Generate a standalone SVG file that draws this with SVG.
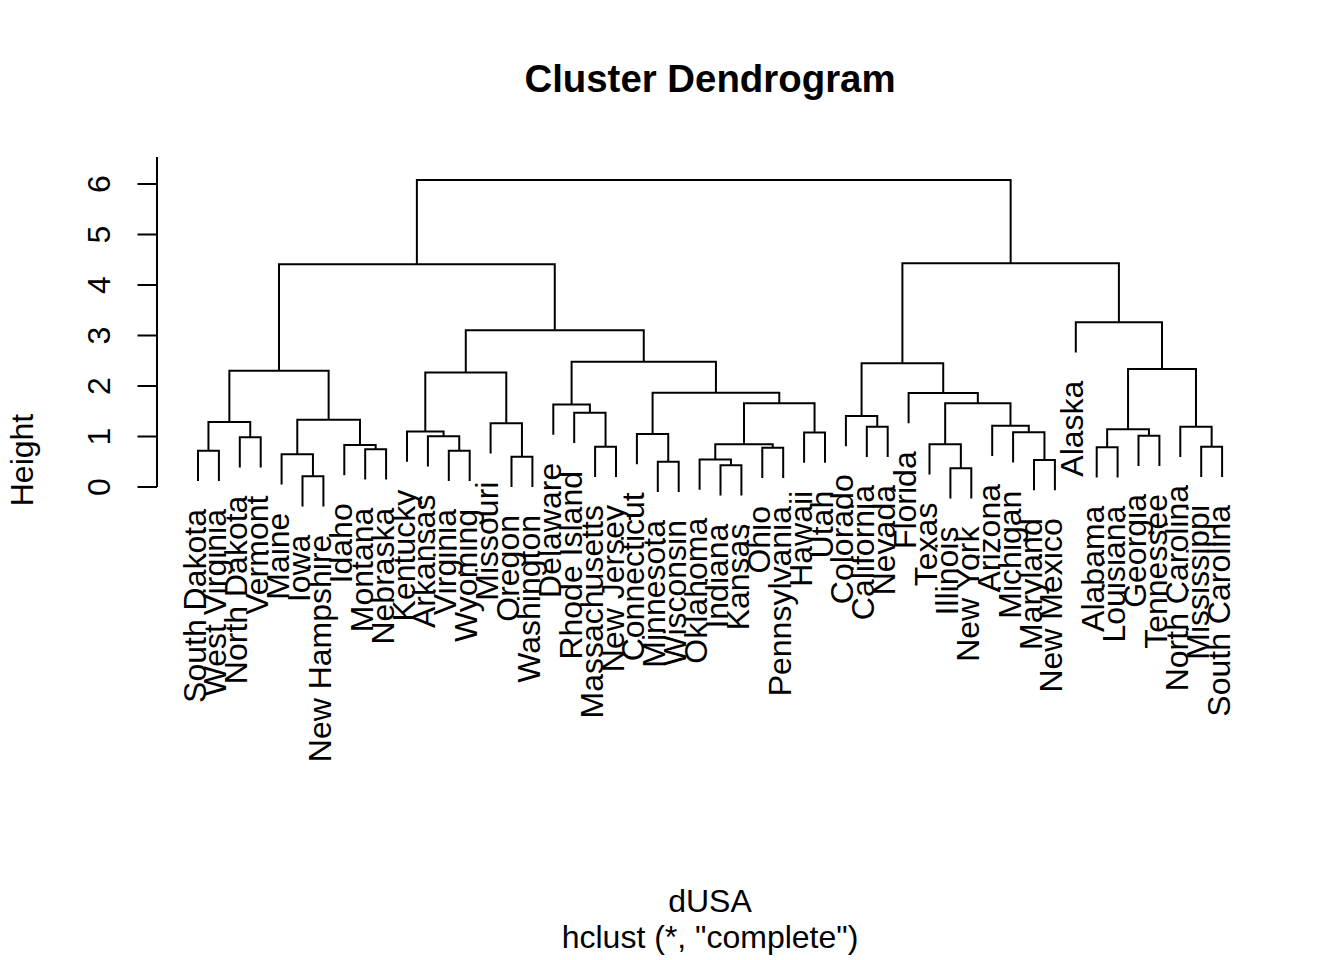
<svg xmlns="http://www.w3.org/2000/svg" width="1344" height="960" viewBox="0 0 1344 960">
<style>
.b{fill:none;stroke:#000;stroke-width:2;stroke-linecap:butt;stroke-linejoin:miter}
.t{font-family:"Liberation Sans",Arial,Helvetica,sans-serif;font-size:32px;fill:#000}
.lbl{text-anchor:end}
.mid{text-anchor:middle}
</style>
<rect width="1344" height="960" fill="#fff"/>
<text id="title" class="t mid" x="710" y="92" style="font-size:38.4px;font-weight:bold">Cluster Dendrogram</text>
<text id="xlab" class="t mid" x="710" y="912">dUSA</text>
<text id="sub" class="t mid" x="710" y="948">hclust (*, "complete")</text>
<text id="ylab" class="t mid" transform="translate(33,460) rotate(-90)">Height</text>
<g id="axis">
<path class="b" d="M157 487V157M157 487H137.5M157 436.5H137.5M157 386H137.5M157 335.5H137.5M157 285H137.5M157 234.5H137.5M157 184H137.5"/>
<text class="t mid" transform="translate(110,487) rotate(-90)">0</text>
<text class="t mid" transform="translate(110,436.5) rotate(-90)">1</text>
<text class="t mid" transform="translate(110,386) rotate(-90)">2</text>
<text class="t mid" transform="translate(110,335.5) rotate(-90)">3</text>
<text class="t mid" transform="translate(110,285) rotate(-90)">4</text>
<text class="t mid" transform="translate(110,234.5) rotate(-90)">5</text>
<text class="t mid" transform="translate(110,184) rotate(-90)">6</text>
</g>
<g id="connectors" class="b">
<path d="M198 481V450.7H218.9V481"/>
<path d="M239.8 467.6V437.3H260.7V467.6"/>
<path d="M208.45 450.7V422H250.25V437.3"/>
<path d="M302.5 506.6V476.3H323.4V506.6"/>
<path d="M281.6 484.6V454.3H312.95V476.3"/>
<path d="M365.2 479.6V449.3H386.1V479.6"/>
<path d="M344.3 475.3V445H375.65V449.3"/>
<path d="M297.28 454.3V419.7H359.98V445"/>
<path d="M229.35 422V370.7H328.63V419.7"/>
<path d="M448.8 481V450.7H469.7V481"/>
<path d="M427.9 466.6V436.3H459.25V450.7"/>
<path d="M407 461.8V431.5H443.58V436.3"/>
<path d="M511.5 487V456.7H532.4V487"/>
<path d="M490.6 453.6V423.3H521.95V456.7"/>
<path d="M425.29 431.5V372.5H506.28V423.3"/>
<path d="M595.1 477V446.7H616V477"/>
<path d="M574.2 443V412.7H605.55V446.7"/>
<path d="M553.3 434.8V404.5H589.88V412.7"/>
<path d="M657.8 492V461.7H678.7V492"/>
<path d="M636.9 464.3V434H668.25V461.7"/>
<path d="M720.5 495.6V465.3H741.4V495.6"/>
<path d="M699.6 489.8V459.5H730.95V465.3"/>
<path d="M762.3 478V447.7H783.2V478"/>
<path d="M715.28 459.5V444.3H772.75V447.7"/>
<path d="M804.1 462.8V432.5H825V462.8"/>
<path d="M744.01 444.3V403.3H814.55V432.5"/>
<path d="M652.58 434V392.7H779.28V403.3"/>
<path d="M571.59 404.5V361.7H715.93V392.7"/>
<path d="M465.78 372.5V330.2H643.76V361.7"/>
<path d="M278.99 370.7V264.3H554.77V330.2"/>
<path d="M866.8 457V426.7H887.7V457"/>
<path d="M845.9 446.3V416H877.25V426.7"/>
<path d="M950.4 498.6V468.3H971.3V498.6"/>
<path d="M929.5 474.6V444.3H960.85V468.3"/>
<path d="M1034 490.3V460H1054.9V490.3"/>
<path d="M1013.1 462.6V432.3H1044.45V460"/>
<path d="M992.2 456V425.7H1028.78V432.3"/>
<path d="M945.18 444.3V403.3H1010.49V425.7"/>
<path d="M908.6 423.3V393H977.83V403.3"/>
<path d="M861.58 416V363.3H943.22V393"/>
<path d="M1096.7 477.6V447.3H1117.6V477.6"/>
<path d="M1138.5 466V435.7H1159.4V466"/>
<path d="M1107.15 447.3V429.3H1148.95V435.7"/>
<path d="M1201.2 477V446.7H1222.1V477"/>
<path d="M1180.3 457V426.7H1211.65V446.7"/>
<path d="M1128.05 429.3V369H1195.98V426.7"/>
<path d="M1075.8 352.6V322.3H1162.01V369"/>
<path d="M902.4 363.3V263.3H1118.9V322.3"/>
<path d="M416.88 264.3V180H1010.65V263.3"/>
</g>
<g id="leaves" class="t lbl">
<g id="n1"><text transform="translate(205.5,509) rotate(-90)">South Dakota</text></g>
<g id="n2"><text transform="translate(226.4,509) rotate(-90)">West Virginia</text></g>
<g id="n3"><text transform="translate(247.3,495.6) rotate(-90)">North Dakota</text></g>
<g id="n4"><text transform="translate(268.2,495.6) rotate(-90)">Vermont</text></g>
<g id="n5"><text transform="translate(289.1,512.6) rotate(-90)">Maine</text></g>
<g id="n6"><text transform="translate(310,534.6) rotate(-90)">Iowa</text></g>
<g id="n7"><text transform="translate(330.9,534.6) rotate(-90)">New Hampshire</text></g>
<g id="n8"><text transform="translate(351.8,503.3) rotate(-90)">Idaho</text></g>
<g id="n9"><text transform="translate(372.7,507.6) rotate(-90)">Montana</text></g>
<g id="n10"><text transform="translate(393.6,507.6) rotate(-90)">Nebraska</text></g>
<g id="n11"><text transform="translate(414.5,489.8) rotate(-90)">Kentucky</text></g>
<g id="n12"><text transform="translate(435.4,494.6) rotate(-90)">Arkansas</text></g>
<g id="n13"><text transform="translate(456.3,509) rotate(-90)">Virginia</text></g>
<g id="n14"><text transform="translate(477.2,509) rotate(-90)">Wyoming</text></g>
<g id="n15"><text transform="translate(498.1,481.6) rotate(-90)">Missouri</text></g>
<g id="n16"><text transform="translate(519,515) rotate(-90)">Oregon</text></g>
<g id="n17"><text transform="translate(539.9,515) rotate(-90)">Washington</text></g>
<g id="n18"><text transform="translate(560.8,462.8) rotate(-90)">Delaware</text></g>
<g id="n19"><text transform="translate(581.7,471) rotate(-90)">Rhode Island</text></g>
<g id="n20"><text transform="translate(602.6,505) rotate(-90)">Massachusetts</text></g>
<g id="n21"><text transform="translate(623.5,505) rotate(-90)">New Jersey</text></g>
<g id="n22"><text transform="translate(644.4,492.3) rotate(-90)">Connecticut</text></g>
<g id="n23"><text transform="translate(665.3,520) rotate(-90)">Minnesota</text></g>
<g id="n24"><text transform="translate(686.2,520) rotate(-90)">Wisconsin</text></g>
<g id="n25"><text transform="translate(707.1,517.8) rotate(-90)">Oklahoma</text></g>
<g id="n26"><text transform="translate(728,523.6) rotate(-90)">Indiana</text></g>
<g id="n27"><text transform="translate(748.9,523.6) rotate(-90)">Kansas</text></g>
<g id="n28"><text transform="translate(769.8,506) rotate(-90)">Ohio</text></g>
<g id="n29"><text transform="translate(790.7,506) rotate(-90)">Pennsylvania</text></g>
<g id="n30"><text transform="translate(811.6,490.8) rotate(-90)">Hawaii</text></g>
<g id="n31"><text transform="translate(832.5,490.8) rotate(-90)">Utah</text></g>
<g id="n32"><text transform="translate(853.4,474.3) rotate(-90)">Colorado</text></g>
<g id="n33"><text transform="translate(874.3,485) rotate(-90)">California</text></g>
<g id="n34"><text transform="translate(895.2,485) rotate(-90)">Nevada</text></g>
<g id="n35"><text transform="translate(916.1,451.3) rotate(-90)">Florida</text></g>
<g id="n36"><text transform="translate(937,502.6) rotate(-90)">Texas</text></g>
<g id="n37"><text transform="translate(957.9,526.6) rotate(-90)">Illinois</text></g>
<g id="n38"><text transform="translate(978.8,526.6) rotate(-90)">New York</text></g>
<g id="n39"><text transform="translate(999.7,484) rotate(-90)">Arizona</text></g>
<g id="n40"><text transform="translate(1020.6,490.6) rotate(-90)">Michigan</text></g>
<g id="n41"><text transform="translate(1041.5,518.3) rotate(-90)">Maryland</text></g>
<g id="n42"><text transform="translate(1062.4,518.3) rotate(-90)">New Mexico</text></g>
<g id="n43"><text transform="translate(1083.3,380.6) rotate(-90)">Alaska</text></g>
<g id="n44"><text transform="translate(1104.2,505.6) rotate(-90)">Alabama</text></g>
<g id="n45"><text transform="translate(1125.1,505.6) rotate(-90)">Louisiana</text></g>
<g id="n46"><text transform="translate(1146,494) rotate(-90)">Georgia</text></g>
<g id="n47"><text transform="translate(1166.9,494) rotate(-90)">Tennessee</text></g>
<g id="n48"><text transform="translate(1187.8,485) rotate(-90)">North Carolina</text></g>
<g id="n49"><text transform="translate(1208.7,505) rotate(-90)">Mississippi</text></g>
<g id="n50"><text transform="translate(1229.6,505) rotate(-90)">South Carolina</text></g>
</g>
</svg>
